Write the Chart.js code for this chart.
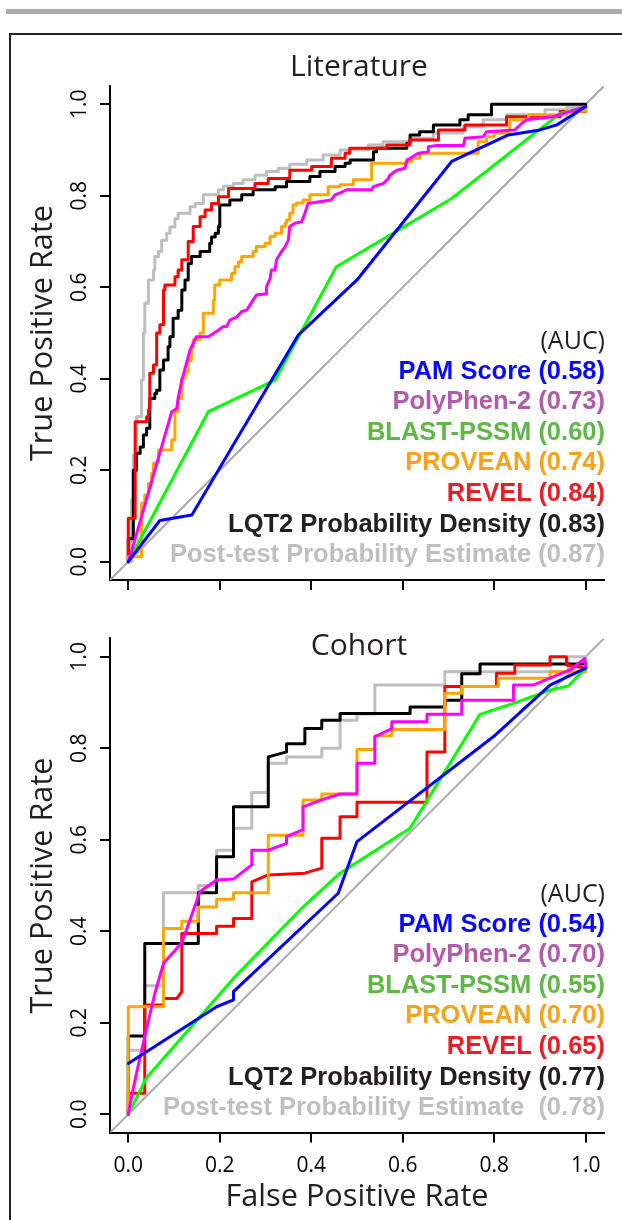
<!DOCTYPE html>
<html>
<head>
<meta charset="utf-8">
<script src="https://cdn.jsdelivr.net/npm/chart.js@4.4.1/dist/chart.umd.min.js"></script>
<style>
  body { margin: 0; background: #fff; width: 622px; height: 1220px; overflow: hidden; position: relative; }
  #bar { position: absolute; left: 6px; right: 0; top: 9px; height: 5px; background: #ababab; }
  #frame { position: absolute; left: 9px; top: 33px; right: -10px; bottom: -10px; border-left: 2px solid #222; border-top: 2px solid #222; }
  canvas { position: absolute; left: 0; }
  #c1 { top: 0; }
  #c2 { top: 600px; }
  .title { position: absolute; left: 259px; width: 200px; text-align: center; font: 30px "Open Sans", sans-serif; line-height: 36px; color: #231f20; }
  .legend { position: absolute; right: 17px; text-align: right; white-space: pre; }
  .legend div { font: bold 25.5px "Liberation Sans", Arial, sans-serif; line-height: 30.6px; height: 30.6px; }
  .legend div.auc { font: 25px "Open Sans", sans-serif; line-height: 30.6px; color: #231f20; }
</style>
</head>
<body>
<div id="bar"></div>
<div id="frame"></div>
<canvas id="c1" width="622" height="600"></canvas>
<canvas id="c2" width="622" height="620"></canvas>
<div class="title" style="top:47px">Literature</div>
<div class="title" style="top:626px">Cohort</div>
<div class="legend" id="leg1" style="top:324px"></div>
<div class="legend" id="leg2" style="top:877px"></div>
<script>
// axis
const tickVals = [0, 0.2, 0.4, 0.6, 0.8, 1.0];
const axisMin = -0.04, axisMax = 1.04;

const methodNames = ['PAM Score', 'PolyPhen-2', 'BLAST-PSSM', 'PROVEAN', 'REVEL', 'LQT2 Probability Density', 'Post-test Probability Estimate'];
const litAUC = ['0.58', '0.73', '0.60', '0.74', '0.84', '0.83', '0.87'];
const cohAUC = ['0.54', '0.70', '0.55', '0.70', '0.65', '0.77', '0.78'];

// Literature ROC curves, [FPR, TPR]
const litPAM = [[0,0],[0.069,0.09],[0.139,0.102],[0.372,0.496],[0.5,0.616],[0.707,0.875],[0.831,0.933],[0.9,0.944],[0.937,0.955],[1,0.995]];
const litPolyPhen = [[0,0],[0.007,0.022],[0.095,0.328],[0.106,0.335],[0.109,0.357],[0.117,0.397],[0.127,0.433],[0.135,0.463],[0.142,0.477],[0.149,0.492],[0.175,0.492],[0.186,0.499],[0.197,0.506],[0.207,0.514],[0.215,0.514],[0.222,0.528],[0.237,0.535],[0.248,0.547],[0.259,0.55],[0.266,0.561],[0.273,0.572],[0.28,0.583],[0.302,0.586],[0.302,0.601],[0.31,0.619],[0.313,0.638],[0.321,0.638],[0.324,0.66],[0.335,0.678],[0.343,0.689],[0.35,0.703],[0.353,0.733],[0.364,0.74],[0.379,0.743],[0.386,0.762],[0.393,0.783],[0.444,0.791],[0.452,0.802],[0.463,0.806],[0.477,0.813],[0.532,0.813],[0.536,0.82],[0.558,0.827],[0.569,0.838],[0.572,0.845],[0.587,0.856],[0.605,0.86],[0.609,0.878],[0.616,0.882],[0.634,0.893],[0.656,0.896],[0.656,0.907],[0.674,0.91],[0.733,0.91],[0.736,0.926],[0.776,0.929],[0.783,0.94],[0.845,0.944],[0.86,0.958],[0.871,0.966],[0.929,0.973],[1,0.995]];
const litBLAST = [[0,0],[0.175,0.328],[0.321,0.397],[0.455,0.645],[0.707,0.794],[0.944,0.98],[1,0.995]];
const litPROVEAN = [[0,0],[0,0.011],[0.029,0.128],[0.036,0.146],[0.044,0.171],[0.051,0.193],[0.055,0.215],[0.062,0.219],[0.066,0.244],[0.095,0.266],[0.102,0.328],[0.109,0.357],[0.117,0.401],[0.124,0.415],[0.131,0.44],[0.138,0.47],[0.142,0.485],[0.157,0.5],[0.164,0.543],[0.186,0.572],[0.189,0.605],[0.2,0.616],[0.226,0.63],[0.233,0.645],[0.241,0.656],[0.248,0.667],[0.273,0.678],[0.28,0.689],[0.299,0.696],[0.31,0.711],[0.321,0.718],[0.335,0.733],[0.343,0.74],[0.346,0.747],[0.353,0.762],[0.36,0.78],[0.368,0.784],[0.382,0.791],[0.397,0.802],[0.437,0.82],[0.463,0.824],[0.492,0.835],[0.532,0.871],[0.61,0.875],[0.619,0.882],[0.637,0.893],[0.765,0.918],[0.783,0.929],[0.8,0.937],[0.831,0.944],[0.834,0.966],[0.875,0.977],[0.958,0.985],[1,0.995]];
const litREVEL = [[0,0],[0,0.095],[0.015,0.306],[0.04,0.317],[0.044,0.332],[0.047,0.412],[0.055,0.43],[0.062,0.5],[0.069,0.518],[0.077,0.594],[0.08,0.605],[0.102,0.623],[0.109,0.638],[0.117,0.66],[0.131,0.7],[0.142,0.733],[0.157,0.754],[0.168,0.769],[0.182,0.783],[0.197,0.798],[0.219,0.816],[0.277,0.827],[0.306,0.838],[0.353,0.856],[0.401,0.864],[0.444,0.882],[0.474,0.893],[0.484,0.904],[0.565,0.911],[0.615,0.922],[0.678,0.944],[0.736,0.955],[0.827,0.973],[0.944,0.984],[1,0.995]];
const litLQT2 = [[0,0],[0,0.05],[0.011,0.2],[0.018,0.237],[0.026,0.251],[0.033,0.277],[0.04,0.292],[0.047,0.357],[0.058,0.368],[0.062,0.375],[0.069,0.419],[0.077,0.441],[0.087,0.47],[0.091,0.492],[0.098,0.532],[0.109,0.55],[0.117,0.594],[0.124,0.616],[0.131,0.652],[0.138,0.667],[0.157,0.678],[0.178,0.696],[0.182,0.71],[0.19,0.718],[0.197,0.733],[0.2,0.78],[0.222,0.791],[0.248,0.802],[0.273,0.813],[0.321,0.82],[0.346,0.831],[0.397,0.842],[0.419,0.853],[0.452,0.864],[0.474,0.871],[0.485,0.878],[0.536,0.896],[0.543,0.904],[0.609,0.915],[0.616,0.933],[0.637,0.94],[0.667,0.955],[0.725,0.966],[0.743,0.977],[0.794,1.0],[0.955,1.0],[1,0.995]];
const litPostTest = [[0,0],[0.007,0.135],[0.011,0.233],[0.018,0.317],[0.029,0.397],[0.033,0.5],[0.036,0.565],[0.044,0.616],[0.055,0.638],[0.058,0.667],[0.066,0.678],[0.073,0.703],[0.084,0.718],[0.091,0.732],[0.102,0.75],[0.109,0.762],[0.135,0.776],[0.146,0.783],[0.164,0.802],[0.197,0.813],[0.208,0.821],[0.23,0.827],[0.251,0.835],[0.277,0.845],[0.302,0.853],[0.328,0.86],[0.353,0.869],[0.39,0.878],[0.426,0.889],[0.463,0.9],[0.525,0.911],[0.557,0.918],[0.619,0.926],[0.667,0.937],[0.732,0.951],[0.776,0.966],[0.827,0.977],[0.911,0.988],[0.958,0.993],[1,0.995]];

// Cohort ROC curves, [FPR, TPR]
const cohPAM = [[0,0.111],[0.193,0.235],[0.23,0.25],[0.23,0.268],[0.459,0.483],[0.5,0.596],[0.798,0.825],[0.922,0.938],[1,0.975]];
const cohPolyPhen = [[0,0],[0.007,0.038],[0.018,0.09],[0.036,0.17],[0.058,0.264],[0.077,0.33],[0.117,0.375],[0.157,0.487],[0.193,0.512],[0.23,0.514],[0.27,0.545],[0.27,0.577],[0.306,0.577],[0.346,0.592],[0.346,0.607],[0.382,0.622],[0.382,0.672],[0.423,0.687],[0.463,0.7],[0.5,0.7],[0.5,0.767],[0.539,0.767],[0.539,0.825],[0.576,0.843],[0.576,0.858],[0.653,0.858],[0.653,0.874],[0.729,0.874],[0.729,0.905],[0.842,0.905],[0.842,0.938],[0.885,0.938],[0.922,0.953],[0.966,0.971],[0.998,0.996],[1,0.975]];
const cohBLAST = [[0,0],[0.04,0.08],[0.23,0.297],[0.383,0.454],[0.463,0.527],[0.616,0.625],[0.769,0.874],[0.842,0.898],[0.922,0.927],[0.962,0.936],[1,0.975]];
const cohPROVEAN = [[0,0],[0,0.235],[0.077,0.235],[0.077,0.406],[0.117,0.406],[0.117,0.422],[0.153,0.422],[0.153,0.453],[0.193,0.453],[0.193,0.47],[0.23,0.47],[0.23,0.484],[0.306,0.484],[0.306,0.61],[0.382,0.61],[0.382,0.687],[0.423,0.687],[0.423,0.7],[0.5,0.7],[0.5,0.797],[0.539,0.797],[0.539,0.827],[0.576,0.827],[0.576,0.841],[0.692,0.841],[0.692,0.92],[0.729,0.92],[0.729,0.935],[0.809,0.935],[0.809,0.953],[0.922,0.953],[0.922,0.967],[1,0.967],[1,0.975]];
const cohREVEL = [[0,0],[0,0.046],[0.036,0.046],[0.036,0.239],[0.077,0.239],[0.077,0.253],[0.106,0.253],[0.117,0.268],[0.117,0.395],[0.193,0.395],[0.193,0.411],[0.23,0.411],[0.23,0.428],[0.27,0.428],[0.27,0.508],[0.306,0.523],[0.386,0.527],[0.423,0.538],[0.423,0.603],[0.463,0.603],[0.463,0.65],[0.5,0.65],[0.5,0.682],[0.653,0.682],[0.653,0.792],[0.692,0.792],[0.692,0.935],[0.805,0.935],[0.805,0.964],[0.845,0.964],[0.845,0.982],[0.922,0.982],[0.922,1.0],[0.958,1.0],[0.958,0.982],[1,0.975]];
const cohLQT2 = [[0,0],[0,0.171],[0.036,0.171],[0.036,0.373],[0.153,0.373],[0.153,0.484],[0.193,0.484],[0.193,0.563],[0.23,0.563],[0.23,0.672],[0.306,0.672],[0.306,0.781],[0.346,0.792],[0.346,0.81],[0.386,0.81],[0.386,0.843],[0.423,0.843],[0.423,0.861],[0.463,0.861],[0.463,0.876],[0.616,0.876],[0.616,0.89],[0.692,0.89],[0.692,0.905],[0.729,0.905],[0.729,0.963],[0.769,0.963],[0.769,0.984],[1,0.984],[1,0.975]];
const cohPostTest = [[0,0],[0,0.14],[0.036,0.14],[0.036,0.281],[0.077,0.281],[0.077,0.484],[0.153,0.484],[0.153,0.5],[0.193,0.5],[0.193,0.577],[0.23,0.577],[0.23,0.625],[0.27,0.625],[0.27,0.703],[0.306,0.703],[0.306,0.767],[0.346,0.767],[0.346,0.781],[0.423,0.781],[0.423,0.8],[0.463,0.8],[0.463,0.861],[0.5,0.861],[0.5,0.875],[0.539,0.875],[0.539,0.938],[0.692,0.938],[0.692,0.967],[0.962,0.967],[0.962,1.0],[1,1.0],[1,0.975]];

// styles
const lineColors = ['#0000ff', '#ff00ff', '#00ff00', '#ffa500', '#ff0000', '#000000', '#bebebe'];
const textColors = ['#0a0af5', '#b45aaa', '#5fb846', '#f9a21c', '#ea1f26', '#231f20', '#bfbfbf'];
const litStepped = [false, false, false, 'before', 'before', 'before', 'before'];
const cohStepped = [false, false, false, false, false, false, false];
const litSep = [' ', ' ', ' ', ' ', ' ', ' ', ' '];
const cohSep = [' ', ' ', ' ', ' ', ' ', ' ', '  '];

const fontFam = '"Open Sans", sans-serif';

function toXY(arr) {
    return arr.map(p => ({x: p[0], y: p[1]}));
}

function makeChart(canvasId, curves, stepped, showXLabels, padTop, xAxisHeight) {
    const datasets = curves.map((c, i) => ({
        data: toXY(c),
        borderColor: lineColors[i],
        borderWidth: 3,
        pointRadius: 0,
        stepped: stepped[i],
        tension: 0,
        fill: false,
        borderJoinStyle: 'round',
        borderCapStyle: 'round'
    }));
    // reference diagonal, drawn underneath
    datasets.push({
        data: [{x: axisMin, y: axisMin}, {x: axisMax, y: axisMax}],
        borderColor: '#aaaaaa',
        borderWidth: 2,
        pointRadius: 0,
        fill: false
    });

    const setTicks = s => { s.ticks = tickVals.map(v => ({value: v})); };

    return new Chart(document.getElementById(canvasId), {
        type: 'line',
        data: { datasets: datasets },
        options: {
            responsive: false,
            animation: false,
            devicePixelRatio: 1,
            events: [],
            layout: { padding: { left: 10, right: 18, top: padTop, bottom: 0 } },
            plugins: { legend: { display: false }, tooltip: { enabled: false }, title: { display: false } },
            scales: {
                x: {
                    type: 'linear', min: axisMin, max: axisMax,
                    afterBuildTicks: setTicks,
                    afterFit: s => { s.height = xAxisHeight; },
                    border: { display: true, color: '#000', width: 2 },
                    grid: { drawOnChartArea: false, drawTicks: true, tickLength: 10, color: '#000', lineWidth: 2 },
                    ticks: {
                        display: showXLabels, padding: 11, autoSkip: false, maxRotation: 0,
                        color: '#000', font: { family: fontFam, size: 21 },
                        callback: v => v.toFixed(1)
                    },
                    title: {
                        display: showXLabels, text: 'False Positive Rate', color: '#231f20',
                        font: { family: fontFam, size: 30.7 }, padding: { top: 0, bottom: 4 }
                    }
                },
                y: {
                    type: 'linear', min: axisMin, max: axisMax,
                    afterBuildTicks: setTicks,
                    afterFit: s => { s.width = 100; },
                    border: { display: true, color: '#000', width: 2 },
                    grid: { drawOnChartArea: false, drawTicks: true, tickLength: 10, color: '#000', lineWidth: 2 },
                    ticks: {
                        padding: 5, autoSkip: false, minRotation: 90, maxRotation: 90, crossAlign: 'center',
                        color: '#000', font: { family: fontFam, size: 21 },
                        callback: v => v.toFixed(1)
                    },
                    title: {
                        display: true, text: 'True Positive Rate', color: '#231f20',
                        font: { family: fontFam, size: 30.7 }, padding: { top: 15, bottom: 0 }
                    }
                }
            }
        }
    });
}

function fillLegend(id, auc, sep) {
    const box = document.getElementById(id);
    const head = document.createElement('div');
    head.className = 'auc';
    head.textContent = '(AUC)';
    box.appendChild(head);
    methodNames.forEach((name, i) => {
        const d = document.createElement('div');
        d.style.color = textColors[i];
        d.textContent = name + sep[i] + '(' + auc[i] + ')';
        box.appendChild(d);
    });
}

makeChart('c1', [litPAM, litPolyPhen, litBLAST, litPROVEAN, litREVEL, litLQT2, litPostTest], litStepped, false, 86, 20);
makeChart('c2', [cohPAM, cohPolyPhen, cohBLAST, cohPROVEAN, cohREVEL, cohLQT2, cohPostTest], cohStepped, true, 38.4, 87.4);
fillLegend('leg1', litAUC, litSep);
fillLegend('leg2', cohAUC, cohSep);
</script>
</body>
</html>
